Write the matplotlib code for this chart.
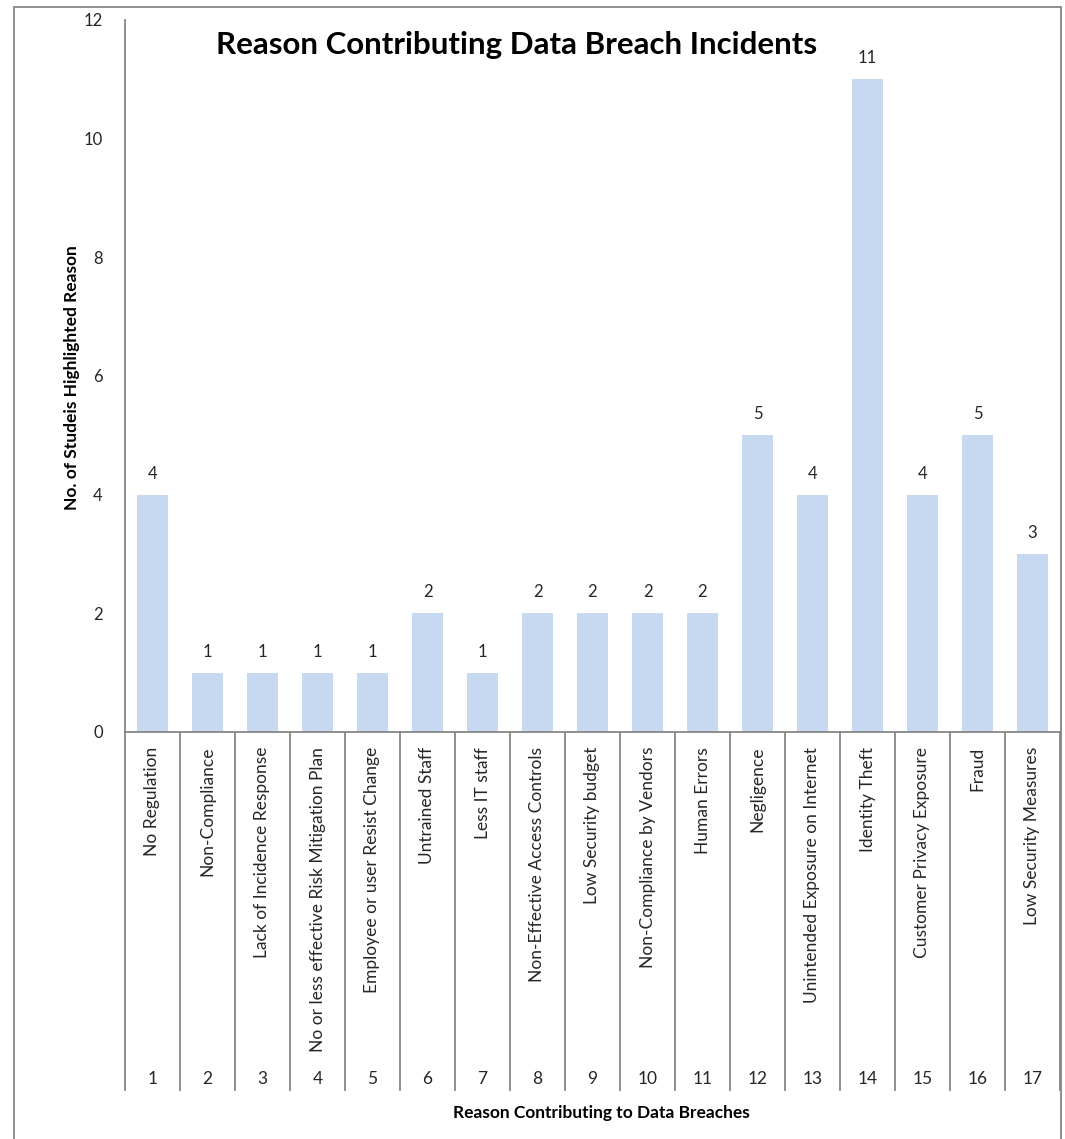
import matplotlib.pyplot as plt
from matplotlib.patches import Rectangle

plt.rcParams['font.family'] = ['Lato', 'DejaVu Sans']

reasons = ["No Regulation", "Non-Compliance", "Lack of Incidence Response",
           "No or less effective Risk Mitigation Plan", "Employee or user Resist Change",
           "Untrained Staff", "Less IT staff", "Non-Effective Access Controls",
           "Low Security budget", "Non-Compliance by Vendors", "Human Errors",
           "Negligence", "Unintended Exposure on Internet", "Identity Theft",
           "Customer Privacy Exposure", "Fraud", "Low Security Measures"]
numbers = list(range(1, 18))
counts = [4, 1, 1, 1, 1, 2, 1, 2, 2, 2, 2, 5, 4, 11, 4, 5, 3]

W, H = 1065, 1139
fig = plt.figure(figsize=(W / 100, H / 100), dpi=100)
ax = fig.add_axes([125 / W, (H - 732) / H, (1060 - 125) / W, (732 - 20) / H])

grey = '#868686'
txt = '#262626'

x = list(range(len(counts)))
ax.bar(x, counts, width=0.58, color='#C6D9F1')
for xi, c in zip(x, counts):
    ax.text(xi, c + 0.22, str(c), ha='center', va='bottom', fontsize=12, color=txt)

ax.set_xlim(-0.5, len(counts) - 0.5)
ax.set_ylim(0, 12)
ax.set_yticks(range(0, 13, 2))
ax.tick_params(axis='y', length=0, pad=16, labelsize=12, labelcolor=txt)
ax.set_xticks([])
for s in ['top', 'right']:
    ax.spines[s].set_visible(False)
ax.spines['left'].set_color(grey)
ax.spines['bottom'].set_color(grey)
ax.spines['left'].set_linewidth(1.3)
ax.spines['bottom'].set_linewidth(1.3)

tr = ax.get_xaxis_transform()
sep_bottom = -(1090 - 732) / 712
for b in [i - 0.5 for i in range(len(counts) + 1)]:
    ax.plot([b, b], [0, sep_bottom], transform=tr, color=grey, lw=1.3, clip_on=False)
for xi, name, n in zip(x, reasons, numbers):
    ax.text(xi, -(747 - 732) / 712, name, transform=tr, rotation=90, ha='center', va='top',
            fontsize=12.5, color=txt)
    ax.text(xi, -(1079 - 732) / 712, str(n), transform=tr, ha='center', va='center',
            fontsize=12.5, color=txt)

fig.text(517 / W, 1 - 45 / H, "Reason Contributing Data Breach Incidents", ha='center',
         va='center', fontsize=22.5, fontweight='bold', color='black')
fig.text(72 / W, 1 - 378 / H, "No. of Studeis Highlighted Reason", rotation=90, ha='center',
         va='center', fontsize=12.5, fontweight='bold', color='black')
fig.text(601 / W, 1 - 1113 / H, "Reason Contributing to Data Breaches", ha='center',
         va='center', fontsize=12.5, fontweight='bold', color='black')

fig.patches.append(Rectangle((14 / W, -0.01), (1061 - 14) / W, 1.01 - 7 / H,
                             transform=fig.transFigure, fill=False, edgecolor=grey, lw=1.3))

fig.savefig('out.png', dpi=100)
